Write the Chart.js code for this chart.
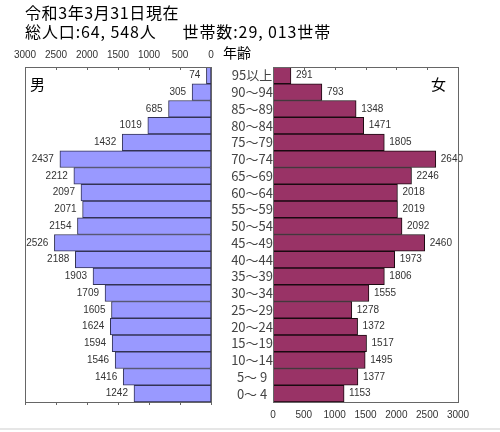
<!DOCTYPE html>
<html>
<head>
<meta charset="utf-8">
<script src="https://cdn.jsdelivr.net/npm/chart.js@4.4.1/dist/chart.umd.min.js"></script>
<style>
html,body{margin:0;padding:0;background:#fff;}
#wrap{position:relative;width:500px;height:432px;overflow:hidden;font-family:"Noto Sans CJK JP",sans-serif;}
canvas{position:absolute;left:0;top:0;}
.t{position:absolute;color:#000;white-space:pre;line-height:1;}
#frame{position:absolute;left:0;top:428px;width:500px;height:2px;background:#e6e6e6;}
</style>
</head>
<body>
<div id="wrap">
  <canvas id="cm" width="500" height="432" style="width:500px;height:432px"></canvas>
  <canvas id="cf" width="500" height="432" style="width:500px;height:432px"></canvas>
  <div class="t" style="left:25px;top:4px;font-size:16px;letter-spacing:0.6px;">令和3年3月31日現在</div>
  <div class="t" style="left:25px;top:23px;font-size:16px;letter-spacing:0.9px;">総人口:64, 548人　  世帯数:29, 013世帯</div>
  <div class="t" style="left:223px;top:45px;font-size:14px;">年齢</div>
  <div class="t" style="left:30px;top:76px;font-size:15px;">男</div>
  <div class="t" style="left:431px;top:76px;font-size:15px;">女</div>
  <div id="frame"></div>
</div>
<script>
const ageLabels = ['95以上','90～94','85～89','80～84','75～79','70～74','65～69','60～64','55～59','50～54','45～49','40～44','35～39','30～34','25～29','20～24','15～19','10～14','5～ 9','0～ 4'];
const maleValues = [74,305,685,1019,1432,2437,2212,2097,2071,2154,2526,2188,1903,1709,1605,1624,1594,1546,1416,1242];
const femaleValues = [291,793,1348,1471,1805,2640,2246,2018,2019,2092,2460,1973,1806,1555,1278,1372,1517,1495,1377,1153];
const axisTicks = [0,500,1000,1500,2000,2500,3000];

const valueLabels = {
  id:'valueLabels',
  afterDatasetsDraw(chart, args, opts){
    const ctx = chart.ctx;
    const meta = chart.getDatasetMeta(0);
    ctx.save();
    ctx.font = '10px "Liberation Sans", Arial, sans-serif';
    ctx.fillStyle = '#333';
    ctx.textBaseline = 'middle';
    meta.data.forEach((bar, i) => {
      const v = chart.data.datasets[0].data[i];
      if (opts.side === 'left') {
        ctx.textAlign = 'right';
        ctx.fillText(String(v), bar.x - 6, bar.y);
      } else {
        ctx.textAlign = 'left';
        ctx.fillText(String(v), bar.x + 5, bar.y);
      }
    });
    ctx.restore();
  }
};
const boxPlugin = {
  id:'box',
  afterDraw(chart, args, opts){
    const a = chart.chartArea, ctx = chart.ctx;
    ctx.save();
    ctx.strokeStyle = '#666';
    ctx.lineWidth = 1;
    ctx.strokeRect(Math.round(a.left)+0.5, Math.round(a.top)+0.5, Math.round(a.right-a.left), Math.round(a.bottom-a.top));
    const xs = chart.scales.x;
    axisTicks.forEach(t => {
      const px = Math.round(xs.getPixelForValue(t)) + 0.5;
      ctx.beginPath();
      ctx.moveTo(px, a.top); ctx.lineTo(px, a.top + 3);
      ctx.moveTo(px, a.bottom); ctx.lineTo(px, a.bottom + (opts.bottomOut ? 3 : 0));
      ctx.stroke();
    });
    ctx.restore();
  }
};

const tickFont = {family:'"Liberation Sans", Arial, sans-serif', size:10};
const plainTick = v => String(v);

new Chart(document.getElementById('cm'), {
  type:'bar',
  data:{labels:ageLabels, datasets:[{data:maleValues, backgroundColor:'#9999ff', borderColor:'#333355', borderWidth:1, borderSkipped:false, barPercentage:1, categoryPercentage:1}]},
  options:{
    responsive:false, animation:false, indexAxis:'y',
    layout:{padding:{left:25, right:289, top:47, bottom:30}},
    plugins:{legend:{display:false}, tooltip:{enabled:false}, valueLabels:{side:'left'}, box:{bottomOut:true}},
    scales:{
      x:{type:'linear', position:'top', reverse:true, min:0, max:3000,
         afterBuildTicks(s){ s.ticks = axisTicks.map(v=>({value:v})); },
         afterFit(s){ s.height = 20; },
         grid:{display:false, drawTicks:false}, border:{display:false},
         ticks:{font:tickFont, color:'#333', padding:6, maxRotation:0, callback:plainTick}},
      y:{type:'category', display:false}
    }
  },
  plugins:[valueLabels, boxPlugin]
});

new Chart(document.getElementById('cf'), {
  type:'bar',
  data:{labels:ageLabels, datasets:[{data:femaleValues, backgroundColor:'#993366', borderColor:'#1a0a10', borderWidth:1, borderSkipped:false, barPercentage:1, categoryPercentage:1}]},
  options:{
    responsive:false, animation:false, indexAxis:'y',
    layout:{padding:{left:211, right:42, top:67, bottom:10}},
    plugins:{legend:{display:false}, tooltip:{enabled:false}, valueLabels:{side:'right'}, box:{bottomOut:false}},
    scales:{
      x:{type:'linear', position:'bottom', min:0, max:3000,
         afterBuildTicks(s){ s.ticks = axisTicks.map(v=>({value:v})); },
         afterFit(s){ s.height = 20; },
         grid:{display:false, drawTicks:false}, border:{display:false},
         ticks:{font:tickFont, color:'#333', padding:7, maxRotation:0, callback:plainTick}},
      y:{type:'category', position:'left',
         afterFit(s){ s.width = 62; },
         grid:{display:false, drawTicks:false}, border:{display:false},
         ticks:{autoSkip:false, crossAlign:'center', padding:0, color:'#444', font:{family:'"Noto Sans CJK JP", sans-serif', size:13}}}
    }
  },
  plugins:[valueLabels, boxPlugin]
});
</script>
</body>
</html>
